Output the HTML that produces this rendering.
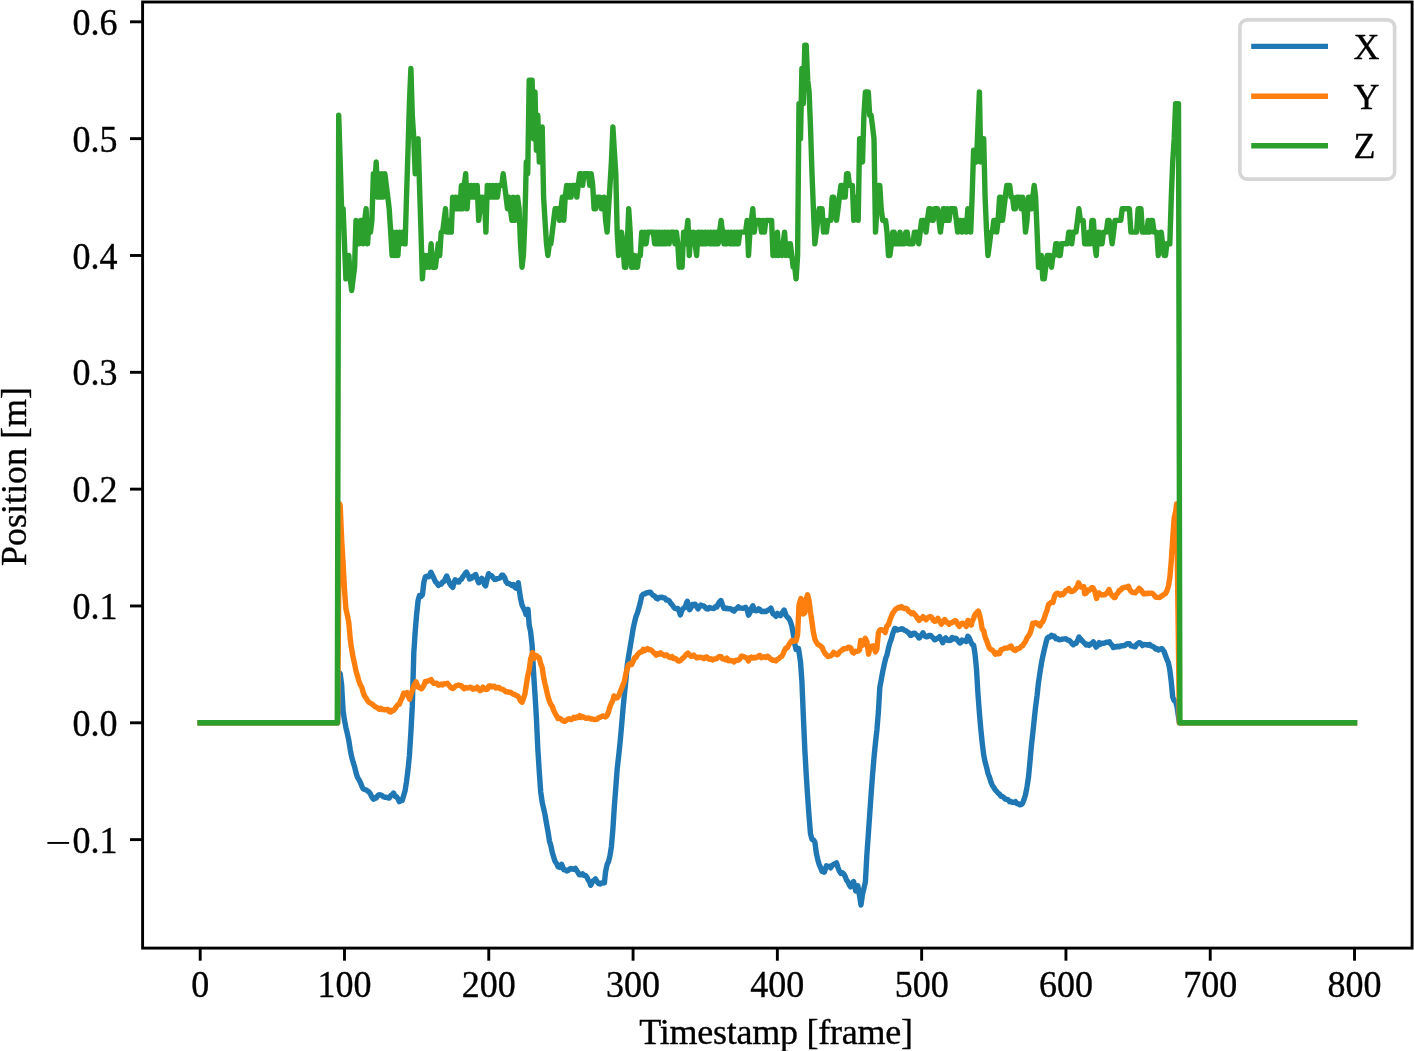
<!DOCTYPE html>
<html><head><meta charset="utf-8"><style>
html,body{margin:0;padding:0;background:#fff;}
svg{display:block;}
text{font-family:"Liberation Serif",serif;font-size:36px;fill:#000;stroke:#000;stroke-width:0.35px;}
</style></head><body>
<svg style="will-change:transform" width="1414" height="1051" viewBox="0 0 1414 1051">
<rect x="0" y="0" width="1414" height="1051" fill="#fff"/>
<g fill="none" stroke-width="5.4" stroke-linejoin="round" stroke-linecap="square">
<path stroke="#1f77b4" d="M200.2,722.8 L337.6,722.8 L339.5,673.0 L340.2,673.9 L341.6,684.6 L343.1,710.9 L344.5,720.3 L345.9,727.6 L347.4,733.9 L348.8,740.3 L350.3,749.9 L351.7,757.0 L353.1,762.1 L354.6,766.8 L356.0,772.6 L357.5,777.4 L358.9,779.6 L360.4,782.5 L361.8,786.1 L363.2,788.9 L364.7,789.6 L366.1,789.8 L367.6,791.0 L369.0,791.9 L370.5,794.1 L371.9,797.1 L373.6,799.2 L374.8,797.7 L376.2,798.0 L377.7,795.8 L379.1,794.8 L380.6,794.9 L382.0,795.5 L383.4,796.7 L384.9,797.3 L386.3,797.2 L387.8,797.9 L389.2,798.1 L390.7,795.6 L392.1,794.8 L393.6,793.0 L395.0,796.3 L396.4,796.7 L397.9,798.6 L399.3,801.6 L400.8,800.7 L402.2,800.6 L403.6,795.7 L405.1,790.7 L406.5,781.7 L408.0,769.7 L409.4,755.7 L410.9,732.1 L412.3,706.2 L413.8,652.9 L415.2,631.7 L416.6,614.6 L418.1,600.4 L419.5,595.5 L421.0,596.3 L422.4,594.9 L423.9,582.1 L425.3,576.9 L426.7,576.2 L428.6,576.8 L429.6,575.1 L430.9,572.2 L432.5,575.5 L433.9,578.3 L435.4,581.8 L436.8,583.1 L438.3,585.4 L439.7,584.5 L441.2,584.2 L442.6,582.0 L444.1,581.4 L445.5,578.5 L446.7,576.0 L448.4,580.4 L449.8,583.7 L451.3,585.9 L452.8,587.4 L454.1,582.2 L455.1,579.8 L457.0,581.8 L458.9,582.0 L459.9,579.9 L461.4,579.3 L462.8,576.9 L464.2,575.0 L465.7,572.9 L466.5,572.2 L468.6,576.2 L469.6,579.0 L471.5,578.3 L472.9,576.4 L474.4,575.5 L475.7,574.5 L477.2,579.2 L478.7,582.8 L480.1,580.5 L481.8,578.3 L483.0,580.0 L484.4,584.5 L485.6,585.9 L487.3,578.7 L488.6,573.7 L490.2,575.7 L491.7,575.8 L493.1,577.7 L494.6,579.3 L496.0,579.2 L497.4,578.6 L498.9,578.3 L500.3,577.7 L501.8,575.3 L503.0,575.2 L504.6,577.5 L506.1,581.8 L507.5,583.4 L509.0,583.5 L510.4,584.5 L511.9,585.5 L513.3,584.5 L514.8,587.2 L516.0,588.2 L518.3,582.8 L519.1,588.8 L520.5,598.1 L522.0,604.8 L523.4,607.9 L524.9,610.9 L526.0,614.6 L528.0,609.3 L529.2,625.2 L530.6,631.6 L532.1,645.2 L533.5,671.5 L535.0,694.5 L536.4,717.6 L537.8,748.3 L539.3,772.2 L540.7,791.8 L542.2,802.3 L543.6,808.3 L545.0,814.8 L546.5,823.5 L547.9,831.0 L549.4,840.7 L550.8,845.4 L552.3,852.5 L553.7,857.1 L555.1,861.5 L556.6,863.5 L558.0,866.7 L559.5,867.4 L561.6,864.3 L562.4,866.1 L563.8,869.8 L565.2,869.8 L566.7,871.0 L568.1,870.4 L569.6,869.1 L571.0,868.5 L572.5,869.2 L573.9,869.4 L575.4,868.3 L576.8,870.6 L578.2,872.8 L579.4,874.8 L581.1,874.8 L582.6,873.8 L584.0,875.4 L585.5,875.5 L586.9,877.2 L588.3,880.1 L589.8,882.4 L590.7,885.3 L592.7,881.2 L594.1,880.4 L595.5,878.9 L597.0,881.5 L598.8,883.7 L599.9,884.0 L601.3,883.0 L602.8,883.1 L604.4,882.9 L605.6,871.6 L607.1,864.5 L608.5,861.6 L610.0,855.7 L611.4,846.6 L612.9,829.1 L614.3,807.2 L615.8,787.4 L617.2,768.7 L618.6,756.5 L620.1,742.3 L621.5,726.7 L623.0,709.1 L624.4,694.4 L625.9,680.3 L627.3,664.6 L628.7,655.6 L630.2,646.5 L631.6,638.4 L633.1,629.0 L634.5,622.5 L636.0,616.5 L637.4,613.0 L638.8,608.2 L640.3,602.8 L641.7,596.0 L643.2,594.2 L644.6,594.1 L646.1,593.1 L647.5,592.6 L648.9,592.3 L650.4,592.2 L651.8,594.1 L653.3,595.5 L654.7,596.0 L656.2,598.2 L657.6,598.9 L659.0,597.4 L660.5,597.6 L661.9,597.1 L663.4,597.9 L664.8,598.0 L666.3,600.1 L667.7,600.1 L669.1,600.7 L670.6,603.1 L672.0,604.6 L673.5,606.9 L674.9,608.3 L676.4,608.7 L677.8,608.4 L679.2,611.4 L680.4,615.0 L682.1,609.8 L683.6,608.2 L685.0,607.5 L686.5,603.0 L687.3,601.3 L689.6,609.7 L690.8,607.9 L692.6,604.4 L693.7,604.4 L695.1,604.2 L696.6,606.6 L698.0,608.9 L699.4,606.5 L700.9,605.0 L702.3,605.8 L703.8,605.9 L705.2,607.3 L706.7,608.9 L708.1,609.0 L709.5,607.4 L711.0,608.0 L712.4,608.4 L713.9,608.5 L715.3,606.8 L716.8,607.0 L718.2,604.0 L719.6,601.8 L720.9,600.5 L722.5,605.0 L724.0,608.4 L725.4,608.5 L726.9,608.2 L728.3,608.9 L729.7,608.8 L731.2,608.9 L732.6,610.3 L734.1,611.1 L735.5,609.0 L737.0,608.5 L738.4,606.8 L739.8,608.0 L741.3,608.1 L742.7,608.2 L744.2,608.0 L745.6,607.3 L747.1,609.6 L748.5,615.2 L749.9,612.8 L751.4,608.4 L752.8,605.7 L754.7,610.4 L755.7,610.7 L757.2,610.6 L758.6,608.8 L760.0,609.6 L761.5,611.6 L762.9,611.5 L764.4,611.3 L765.8,611.5 L767.3,610.7 L768.7,609.8 L770.1,609.0 L770.9,608.1 L773.0,613.9 L774.5,614.6 L775.9,616.3 L777.4,613.4 L778.8,614.3 L780.4,615.7 L781.7,613.5 L783.1,611.4 L784.2,610.0 L786.0,615.4 L787.5,617.3 L788.9,618.6 L790.4,621.4 L791.8,626.1 L793.2,633.6 L794.7,643.7 L796.1,649.5 L797.6,648.7 L798.5,648.5 L800.5,661.8 L801.9,681.3 L803.3,715.0 L804.8,749.1 L806.2,773.8 L807.7,797.3 L809.1,816.7 L810.5,833.9 L812.0,839.4 L813.4,839.8 L814.9,842.1 L816.3,852.9 L817.8,859.7 L819.2,864.6 L820.6,867.7 L822.1,871.4 L823.5,871.0 L824.3,872.1 L826.4,865.8 L827.9,866.5 L829.3,866.3 L830.6,867.9 L832.2,865.4 L833.6,864.3 L835.1,863.7 L836.5,862.9 L838.0,867.6 L839.4,871.3 L840.9,873.4 L842.3,872.7 L843.7,873.8 L845.2,876.6 L846.6,880.2 L848.1,882.2 L849.5,885.3 L850.5,886.8 L852.4,882.9 L853.6,881.5 L855.7,891.0 L856.7,887.8 L857.8,885.7 L859.6,896.1 L861.0,905.0 L862.5,894.1 L863.9,888.4 L865.4,881.8 L866.8,855.8 L868.3,834.6 L869.7,814.6 L871.1,794.2 L872.6,774.4 L874.0,757.5 L875.5,742.4 L876.9,730.0 L878.4,711.8 L879.8,687.5 L881.2,680.0 L882.7,671.7 L884.1,665.2 L885.6,658.7 L887.0,654.8 L888.5,648.0 L889.9,642.9 L891.4,638.8 L892.8,633.5 L894.7,628.5 L895.7,628.7 L897.1,630.0 L898.6,629.7 L900.0,629.4 L901.5,628.8 L902.9,629.0 L904.3,630.2 L905.8,630.7 L907.2,631.7 L908.7,632.7 L910.5,635.4 L911.5,635.4 L913.0,633.5 L914.8,633.2 L915.9,634.5 L917.3,635.4 L918.8,638.0 L919.5,637.9 L920.2,636.2 L921.6,634.8 L923.0,632.8 L924.5,635.7 L926.0,636.8 L927.4,636.9 L928.9,635.5 L930.7,635.4 L931.8,636.8 L933.2,638.0 L934.6,639.9 L935.4,639.7 L937.5,638.0 L939.0,637.6 L939.7,636.7 L940.4,638.8 L941.9,640.7 L942.7,642.7 L944.7,638.9 L945.7,637.9 L947.6,640.4 L949.1,640.5 L950.5,640.4 L952.0,637.5 L953.4,639.0 L954.8,638.3 L956.3,638.5 L957.7,640.6 L959.8,643.1 L960.6,642.8 L962.0,640.0 L963.5,640.5 L964.9,641.0 L966.2,641.4 L967.9,636.2 L969.3,638.1 L970.7,641.6 L972.1,644.2 L973.6,645.3 L975.0,653.7 L976.5,669.3 L977.9,692.8 L979.4,712.9 L980.8,728.9 L982.2,742.7 L983.7,755.0 L985.1,762.0 L986.6,767.4 L988.0,773.5 L989.5,777.2 L990.9,781.9 L992.4,785.5 L993.8,787.5 L995.2,789.7 L996.7,791.4 L998.1,793.1 L999.6,794.2 L1001.0,796.3 L1002.5,796.5 L1003.9,797.6 L1005.3,799.1 L1006.8,799.4 L1008.2,799.9 L1009.7,801.8 L1011.1,801.5 L1012.5,802.4 L1014.0,802.3 L1015.4,801.6 L1016.9,803.6 L1018.3,803.7 L1019.8,804.9 L1021.2,804.7 L1022.6,803.1 L1024.1,799.2 L1025.5,794.7 L1027.0,786.9 L1028.4,777.9 L1029.9,762.5 L1031.3,746.8 L1032.8,733.3 L1034.2,719.8 L1035.6,706.8 L1037.1,695.3 L1038.5,682.3 L1040.0,672.3 L1041.4,663.5 L1042.8,656.3 L1044.3,649.6 L1045.7,643.8 L1047.2,638.2 L1048.6,636.9 L1050.1,637.0 L1051.5,635.3 L1053.0,636.5 L1054.4,636.2 L1055.8,638.7 L1057.3,638.4 L1058.7,639.6 L1060.2,639.7 L1061.6,639.2 L1063.0,639.1 L1064.5,638.9 L1065.9,638.8 L1067.4,640.0 L1068.8,640.1 L1070.3,641.4 L1071.7,643.2 L1073.3,644.7 L1074.6,643.5 L1076.0,643.3 L1077.5,640.7 L1079.0,637.1 L1080.4,638.9 L1081.8,640.5 L1083.2,641.9 L1084.7,643.3 L1086.1,644.9 L1087.6,644.3 L1089.0,645.4 L1090.5,644.1 L1091.9,643.3 L1093.3,641.8 L1094.8,644.6 L1096.1,647.1 L1097.7,645.3 L1099.1,642.7 L1100.6,644.3 L1102.0,643.1 L1103.5,643.2 L1104.9,643.1 L1106.3,642.2 L1107.8,642.3 L1109.5,641.8 L1110.7,644.0 L1112.1,645.1 L1113.3,647.5 L1115.0,646.6 L1116.4,647.1 L1117.9,646.1 L1119.3,646.7 L1120.8,646.0 L1122.2,645.7 L1123.7,645.7 L1125.1,645.3 L1126.5,644.1 L1128.0,643.6 L1129.4,643.6 L1130.9,645.9 L1132.3,645.9 L1133.8,646.5 L1135.2,646.8 L1136.6,644.5 L1138.1,643.2 L1139.5,642.6 L1141.0,643.5 L1142.4,645.6 L1143.9,644.4 L1145.3,644.7 L1146.7,644.6 L1148.2,645.2 L1149.6,644.4 L1151.1,646.0 L1152.5,646.2 L1154.0,647.1 L1155.4,648.9 L1156.8,648.4 L1158.3,650.0 L1159.7,649.3 L1161.2,648.8 L1162.0,648.7 L1164.1,651.5 L1165.5,655.5 L1166.9,659.4 L1168.4,662.8 L1169.8,669.8 L1171.3,682.3 L1172.7,697.0 L1174.2,700.9 L1175.6,701.2 L1177.0,706.5 L1179.4,722.8 L1354.5,722.8"/>
<path stroke="#ff7f0e" d="M200.2,722.8 L337.6,722.8 L339.5,503.7 L340.2,505.6 L341.6,538.4 L343.1,563.6 L344.5,589.7 L345.9,608.6 L347.4,615.3 L348.8,622.7 L350.3,639.4 L351.7,649.6 L353.1,657.3 L354.6,663.9 L356.0,671.0 L357.5,676.0 L358.9,681.1 L360.4,685.0 L361.8,687.4 L363.2,692.5 L364.7,696.3 L366.1,698.0 L367.6,700.7 L369.0,702.3 L370.5,703.1 L371.9,703.8 L373.4,705.2 L374.8,706.5 L376.2,707.2 L377.7,707.9 L379.1,709.2 L380.6,708.2 L382.0,709.6 L383.4,709.4 L384.9,709.9 L386.3,709.5 L387.8,709.4 L389.2,711.7 L390.9,712.0 L392.1,710.2 L393.6,710.3 L395.0,708.8 L396.4,706.5 L397.9,704.8 L399.3,704.2 L400.8,700.4 L402.2,697.8 L403.6,693.2 L405.1,694.0 L406.9,692.7 L408.0,695.4 L409.6,699.3 L410.9,694.4 L412.3,690.5 L413.8,685.8 L415.2,683.1 L416.0,681.8 L418.1,687.2 L419.5,687.5 L421.0,688.7 L421.8,688.7 L423.9,685.3 L425.3,681.4 L426.7,681.7 L428.2,680.9 L429.6,680.5 L431.1,679.5 L432.5,682.2 L433.9,683.3 L435.4,683.2 L436.8,683.1 L438.3,685.2 L439.7,685.0 L441.2,684.1 L442.6,684.9 L444.1,683.6 L445.5,683.7 L447.5,683.3 L448.4,684.5 L449.8,686.4 L451.3,688.0 L452.7,688.5 L454.1,687.5 L455.6,686.1 L457.0,685.5 L458.5,685.0 L459.9,685.6 L461.4,685.6 L462.8,687.5 L464.2,688.8 L465.7,687.5 L467.1,688.0 L468.6,687.9 L470.0,687.2 L471.5,687.6 L472.9,689.3 L474.4,688.4 L475.8,688.8 L477.2,687.1 L478.7,689.2 L480.1,690.8 L481.6,689.9 L483.0,687.1 L484.4,688.8 L485.9,689.5 L487.3,689.4 L488.8,686.2 L490.2,685.8 L491.7,686.9 L493.1,686.2 L494.6,686.5 L496.0,688.1 L497.4,687.4 L498.9,687.5 L500.3,688.9 L501.8,689.1 L503.2,689.5 L504.6,690.7 L506.1,691.8 L507.5,691.6 L509.0,692.3 L510.4,692.2 L511.9,693.3 L513.3,694.2 L514.8,694.5 L516.2,695.6 L517.6,695.9 L519.1,698.0 L520.5,700.9 L522.1,702.3 L523.4,698.6 L524.9,694.2 L526.3,685.1 L527.7,676.0 L529.2,669.9 L530.6,659.1 L532.6,652.6 L534.0,658.6 L535.0,657.1 L536.4,655.6 L537.8,656.9 L539.3,658.0 L540.7,663.8 L542.2,667.6 L543.6,677.1 L545.0,683.8 L546.5,690.2 L547.9,696.3 L549.4,701.1 L550.8,704.6 L552.3,706.3 L553.7,710.6 L555.1,713.3 L556.6,715.8 L558.0,718.6 L559.5,718.1 L560.9,719.0 L562.4,720.4 L563.8,721.2 L565.2,721.2 L566.7,720.0 L568.1,718.9 L569.6,718.8 L571.0,719.7 L572.5,718.9 L573.9,717.2 L575.4,718.2 L576.8,716.9 L578.2,717.5 L579.7,715.6 L581.1,717.5 L582.6,716.5 L584.0,717.4 L585.5,718.2 L586.9,718.3 L588.3,717.9 L589.8,718.3 L591.2,719.0 L592.7,718.9 L594.1,719.6 L595.5,719.5 L597.0,719.2 L598.4,717.9 L599.9,717.4 L601.3,716.6 L602.8,715.9 L604.2,716.3 L605.6,716.9 L607.1,715.5 L608.5,711.7 L610.0,706.8 L611.4,703.3 L612.9,700.1 L613.9,695.9 L615.8,697.9 L617.2,698.0 L618.6,696.0 L620.1,692.1 L621.5,688.7 L623.0,684.8 L624.4,681.2 L625.9,673.8 L627.3,668.5 L628.7,664.5 L630.2,663.8 L631.6,664.4 L633.1,661.5 L634.5,657.9 L636.0,657.4 L637.4,654.8 L638.8,653.2 L640.3,651.9 L641.7,652.0 L643.2,649.4 L644.6,650.7 L646.1,649.8 L647.5,648.5 L648.9,649.7 L650.4,649.7 L651.8,650.5 L653.3,652.2 L654.7,653.4 L656.2,655.1 L657.6,653.6 L659.0,654.3 L660.5,652.9 L661.9,654.1 L663.4,654.9 L664.8,655.7 L666.3,654.8 L667.7,655.8 L669.1,657.2 L670.6,657.5 L672.0,656.6 L673.5,658.6 L674.9,658.3 L676.4,659.1 L677.8,660.8 L679.2,661.1 L680.7,660.3 L682.1,658.7 L683.6,657.6 L685.0,656.0 L686.5,654.1 L687.9,653.1 L689.3,654.6 L690.8,656.3 L692.2,656.2 L693.7,655.0 L695.1,656.5 L696.6,657.9 L698.0,657.2 L699.4,657.5 L700.9,657.2 L702.3,657.7 L703.8,658.6 L705.2,657.4 L706.7,656.9 L708.1,658.5 L709.5,659.3 L711.0,658.8 L712.4,659.9 L713.9,658.9 L715.3,659.0 L716.8,658.6 L718.2,657.2 L719.6,656.5 L721.1,656.6 L722.5,658.9 L724.0,659.0 L725.4,659.8 L726.9,658.2 L728.3,660.7 L729.7,660.1 L731.2,660.9 L732.6,660.6 L734.1,662.0 L735.5,660.5 L737.0,660.3 L738.4,660.0 L739.8,659.0 L741.3,656.2 L742.7,656.2 L744.2,656.8 L745.6,657.5 L747.1,658.1 L748.5,661.0 L749.9,657.8 L751.4,657.1 L752.8,658.1 L754.3,657.3 L755.7,657.9 L757.2,657.2 L758.6,655.8 L760.0,655.4 L761.5,657.7 L762.9,657.2 L764.4,656.8 L765.8,657.6 L767.3,656.2 L768.7,657.0 L770.1,658.7 L771.6,659.5 L773.0,660.4 L774.5,660.1 L775.9,660.9 L777.4,659.3 L778.8,658.6 L780.2,657.2 L781.7,656.4 L783.1,654.0 L784.6,650.1 L786.0,647.9 L787.5,647.7 L788.9,644.7 L790.4,642.4 L791.8,640.5 L793.2,641.2 L794.7,641.0 L796.1,640.9 L797.6,634.7 L799.0,604.9 L800.9,598.6 L801.9,605.6 L803.3,614.0 L804.8,612.8 L806.2,598.6 L807.6,594.8 L809.1,600.9 L810.5,612.1 L812.0,622.0 L813.4,632.3 L814.9,639.3 L816.3,642.1 L817.8,644.4 L819.2,645.2 L820.6,646.1 L822.1,647.4 L823.5,650.8 L825.0,653.5 L826.4,654.9 L827.9,656.5 L829.3,656.0 L830.8,655.8 L832.2,654.7 L833.6,652.3 L835.1,653.6 L837.2,654.8 L838.0,654.3 L839.4,652.1 L840.9,651.0 L842.3,649.9 L843.7,648.7 L845.2,648.7 L846.6,648.6 L848.1,647.1 L849.5,647.2 L851.0,648.3 L852.4,652.2 L853.8,653.1 L855.3,651.3 L856.7,651.4 L858.2,651.1 L859.6,649.7 L860.6,640.5 L862.9,645.1 L863.9,641.2 L865.2,638.2 L866.8,641.4 L868.6,654.2 L869.7,649.2 L871.1,646.5 L873.2,645.7 L874.0,647.4 L875.5,651.9 L876.9,648.8 L878.4,632.8 L879.8,629.9 L881.2,629.7 L882.7,630.1 L884.1,631.0 L885.2,632.5 L887.0,625.8 L888.5,624.6 L889.9,620.1 L891.4,616.3 L892.8,613.0 L894.2,611.3 L895.7,609.1 L897.1,608.5 L898.6,607.2 L900.0,607.8 L901.5,606.6 L902.9,608.0 L904.3,608.6 L905.8,608.3 L907.2,608.9 L908.7,611.5 L910.1,612.2 L911.5,613.7 L913.0,612.7 L914.4,614.2 L915.9,615.5 L917.3,618.1 L919.1,620.4 L920.2,618.4 L921.6,618.5 L923.1,616.7 L924.5,618.0 L926.0,619.7 L927.4,618.0 L928.9,617.1 L930.2,616.5 L931.8,617.4 L933.2,620.2 L934.5,621.3 L936.1,620.9 L937.9,618.3 L939.0,620.7 L940.4,621.9 L941.4,624.2 L943.3,621.0 L944.8,619.5 L946.2,621.8 L947.6,622.8 L949.1,624.2 L950.5,622.9 L952.0,622.8 L953.4,621.6 L954.8,620.6 L955.9,620.8 L957.7,624.4 L959.3,626.4 L960.6,624.6 L962.0,623.1 L963.5,623.5 L964.9,624.5 L966.2,626.4 L967.9,620.4 L969.3,622.1 L971.3,625.1 L972.1,621.5 L973.6,618.3 L975.0,614.7 L976.5,612.8 L978.2,611.0 L979.4,614.4 L980.8,620.4 L982.2,629.1 L983.7,630.6 L985.1,637.0 L986.6,640.6 L988.0,644.6 L989.5,648.2 L990.9,649.5 L992.4,650.2 L993.8,651.8 L995.2,654.1 L996.7,652.7 L998.1,653.8 L999.6,653.5 L1001.0,649.7 L1002.5,649.2 L1003.9,648.7 L1005.3,647.9 L1006.8,648.1 L1008.2,647.8 L1009.7,646.6 L1011.1,646.1 L1012.5,648.7 L1014.0,649.9 L1015.4,650.5 L1016.9,648.8 L1018.3,648.8 L1019.8,648.1 L1021.2,646.4 L1022.6,645.8 L1024.1,643.4 L1025.5,641.6 L1027.0,637.9 L1028.4,636.0 L1029.9,633.6 L1031.3,629.4 L1032.8,623.2 L1034.2,623.7 L1035.6,622.6 L1037.1,623.4 L1038.5,624.7 L1040.0,625.8 L1041.4,622.7 L1042.8,621.7 L1044.3,618.0 L1045.7,613.7 L1047.2,609.7 L1048.6,604.2 L1050.1,603.3 L1051.5,602.1 L1053.0,602.5 L1054.4,596.6 L1055.8,594.0 L1057.3,593.1 L1058.7,593.7 L1060.2,595.2 L1061.6,593.7 L1063.0,594.6 L1064.5,592.8 L1065.9,590.4 L1067.4,590.0 L1068.8,588.5 L1070.3,591.2 L1071.7,591.6 L1073.2,591.0 L1074.6,590.0 L1076.0,588.4 L1077.5,585.7 L1078.5,582.8 L1080.9,587.1 L1081.8,587.1 L1083.8,586.7 L1084.7,593.8 L1086.1,593.3 L1087.6,590.1 L1089.0,590.5 L1090.5,589.2 L1091.9,587.7 L1092.8,587.6 L1094.8,591.5 L1096.6,598.5 L1097.7,595.1 L1099.0,592.8 L1100.6,594.5 L1102.0,595.0 L1103.5,594.7 L1104.9,594.7 L1106.3,593.5 L1107.8,591.8 L1109.0,589.5 L1110.7,593.8 L1112.1,595.3 L1114.2,597.6 L1115.0,597.5 L1116.4,594.5 L1117.9,593.1 L1119.3,590.1 L1120.8,590.1 L1122.2,587.9 L1123.7,587.7 L1125.1,587.3 L1126.5,587.2 L1128.5,586.2 L1129.4,588.8 L1130.9,591.2 L1132.3,592.3 L1133.8,592.5 L1135.2,592.9 L1136.6,591.3 L1138.1,590.2 L1139.1,588.2 L1141.0,589.9 L1142.4,592.0 L1143.7,593.9 L1145.3,593.7 L1146.7,593.3 L1148.2,593.5 L1149.6,593.2 L1151.1,593.2 L1152.5,593.5 L1154.0,594.9 L1155.4,596.9 L1156.8,597.4 L1158.3,597.4 L1159.7,597.5 L1161.2,596.2 L1162.6,595.5 L1164.1,594.2 L1165.5,593.5 L1166.9,590.9 L1168.4,586.2 L1169.8,578.0 L1171.3,560.4 L1172.7,538.6 L1174.2,517.9 L1175.6,511.7 L1176.6,504.0 L1179.4,722.8 L1354.5,722.8"/>
<path stroke="#2ca02c" d="M200.2,722.8 L337.3,722.8 L338.7,115.3 L340.2,162.0 L341.6,208.8 L343.1,208.8 L344.5,243.8 L345.9,278.9 L347.4,267.2 L348.8,255.5 L350.3,278.9 L351.7,290.5 L353.1,278.9 L354.6,267.2 L356.0,220.4 L357.5,243.8 L358.9,243.8 L360.4,220.4 L361.8,220.4 L363.2,243.8 L364.7,220.4 L366.1,208.8 L367.6,243.8 L369.0,220.4 L370.5,232.1 L371.9,220.4 L373.4,173.7 L374.8,185.4 L376.2,162.0 L377.7,197.1 L379.1,173.7 L380.6,197.1 L382.0,173.7 L383.4,197.1 L384.9,173.7 L386.3,185.4 L387.8,197.1 L389.2,208.8 L390.7,232.1 L392.1,255.5 L393.6,232.1 L395.0,255.5 L396.4,232.1 L397.9,255.5 L399.3,232.1 L400.8,243.8 L402.2,232.1 L403.6,243.8 L405.1,243.8 L406.5,197.1 L408.0,150.3 L409.4,103.6 L410.9,68.5 L412.3,115.3 L413.8,138.7 L415.2,173.7 L416.6,162.0 L418.1,138.7 L419.5,185.4 L421.0,232.1 L422.4,278.9 L423.9,255.5 L425.3,255.5 L426.7,267.2 L428.2,255.5 L429.6,267.2 L431.1,243.8 L432.5,267.2 L433.9,267.2 L435.4,267.2 L436.8,255.5 L438.3,243.8 L439.7,255.5 L441.2,232.1 L442.6,232.1 L444.1,220.4 L445.5,208.8 L446.9,232.1 L448.4,220.4 L449.8,232.1 L451.3,232.1 L452.7,197.1 L454.1,208.8 L455.6,197.1 L457.0,208.8 L458.5,197.1 L459.9,208.8 L461.4,185.4 L462.8,208.8 L464.2,185.4 L465.7,173.7 L467.1,208.8 L468.6,185.4 L470.0,197.1 L471.5,185.4 L472.9,197.1 L474.4,185.4 L475.8,197.1 L477.2,185.4 L478.7,220.4 L480.1,208.8 L481.6,197.1 L483.0,208.8 L484.4,197.1 L485.9,232.1 L487.3,185.4 L488.8,197.1 L490.2,185.4 L491.7,197.1 L493.1,185.4 L494.6,197.1 L496.0,185.4 L497.4,197.1 L498.9,185.4 L500.3,185.4 L501.8,185.4 L503.2,173.7 L504.6,185.4 L506.1,197.1 L507.5,208.8 L509.0,197.1 L510.4,208.8 L511.9,220.4 L513.3,197.1 L514.8,220.4 L516.2,208.8 L517.6,197.1 L519.1,208.8 L520.5,243.8 L522.0,267.2 L523.4,255.5 L524.9,220.4 L526.3,162.0 L527.7,173.7 L529.2,80.2 L530.6,80.2 L532.1,80.2 L533.5,138.7 L535.0,91.9 L536.4,150.3 L537.8,115.3 L539.3,162.0 L540.7,150.3 L542.2,127.0 L543.6,197.1 L545.0,220.4 L546.5,243.8 L547.9,255.5 L549.4,243.8 L550.8,243.8 L552.3,232.1 L553.7,220.4 L555.1,208.8 L556.6,208.8 L558.0,208.8 L559.5,220.4 L560.9,208.8 L562.4,197.1 L563.8,220.4 L565.2,197.1 L566.7,185.4 L568.1,197.1 L569.6,185.4 L571.0,197.1 L572.5,185.4 L573.9,185.4 L575.4,185.4 L576.8,197.1 L578.2,185.4 L579.7,173.7 L581.1,173.7 L582.6,185.4 L584.0,173.7 L585.5,173.7 L586.9,173.7 L588.3,173.7 L589.8,185.4 L591.2,173.7 L592.7,185.4 L594.1,208.8 L595.5,208.8 L597.0,197.1 L598.4,197.1 L599.9,197.1 L601.3,208.8 L602.8,208.8 L604.2,197.1 L605.6,220.4 L607.1,232.1 L608.5,208.8 L610.0,185.4 L611.4,162.0 L612.9,127.0 L614.3,150.3 L615.8,173.7 L617.2,232.1 L618.6,255.5 L620.1,243.8 L621.5,232.1 L623.0,243.8 L624.4,267.2 L625.9,267.2 L627.3,243.8 L628.7,208.8 L630.2,232.1 L631.6,267.2 L633.1,267.2 L634.5,255.5 L636.0,267.2 L637.4,267.2 L638.8,255.5 L640.3,255.5 L641.7,232.1 L643.2,243.8 L644.6,232.1 L646.1,243.8 L647.5,232.1 L648.9,232.1 L650.4,232.1 L651.8,232.1 L653.3,232.1 L654.7,243.8 L656.2,232.1 L657.6,243.8 L659.0,232.1 L660.5,243.8 L661.9,232.1 L663.4,243.8 L664.8,232.1 L666.3,243.8 L667.7,232.1 L669.1,243.8 L670.6,232.1 L672.0,232.1 L673.5,232.1 L674.9,243.8 L676.4,232.1 L677.8,243.8 L679.2,267.2 L680.7,255.5 L682.1,267.2 L683.6,232.1 L685.0,243.8 L686.5,232.1 L687.9,220.4 L689.3,255.5 L690.8,232.1 L692.2,243.8 L693.7,232.1 L695.1,243.8 L696.6,255.5 L698.0,232.1 L699.4,232.1 L700.9,243.8 L702.3,232.1 L703.8,243.8 L705.2,232.1 L706.7,243.8 L708.1,232.1 L709.5,243.8 L711.0,232.1 L712.4,243.8 L713.9,232.1 L715.3,243.8 L716.8,232.1 L718.2,243.8 L719.6,232.1 L721.1,220.4 L722.5,232.1 L724.0,243.8 L725.4,232.1 L726.9,243.8 L728.3,232.1 L729.7,243.8 L731.2,232.1 L732.6,243.8 L734.1,232.1 L735.5,243.8 L737.0,232.1 L738.4,243.8 L739.8,232.1 L741.3,232.1 L742.7,232.1 L744.2,232.1 L745.6,232.1 L747.1,220.4 L748.5,255.5 L749.9,232.1 L751.4,220.4 L752.8,208.8 L754.3,232.1 L755.7,220.4 L757.2,220.4 L758.6,220.4 L760.0,220.4 L761.5,232.1 L762.9,220.4 L764.4,232.1 L765.8,220.4 L767.3,220.4 L768.7,220.4 L770.1,220.4 L771.6,220.4 L773.0,255.5 L774.5,243.8 L775.9,255.5 L777.4,232.1 L778.8,255.5 L780.2,243.8 L781.7,255.5 L783.1,243.8 L784.6,232.1 L786.0,255.5 L787.5,243.8 L788.9,255.5 L790.4,243.8 L791.8,255.5 L793.2,267.2 L794.7,267.2 L796.1,278.9 L797.6,255.5 L799.0,103.6 L800.5,138.7 L801.9,68.5 L803.3,103.6 L804.8,45.2 L806.2,45.2 L807.7,80.2 L809.1,91.9 L810.5,127.0 L812.0,173.7 L813.4,208.8 L814.9,243.8 L816.3,232.1 L817.8,220.4 L819.2,208.8 L820.6,208.8 L822.1,208.8 L823.5,232.1 L825.0,220.4 L826.4,232.1 L827.9,220.4 L829.3,220.4 L830.8,220.4 L832.2,197.1 L833.6,197.1 L835.1,208.8 L836.5,220.4 L838.0,208.8 L839.4,197.1 L840.9,185.4 L842.3,185.4 L843.7,197.1 L845.2,197.1 L846.6,173.7 L848.1,173.7 L849.5,185.4 L851.0,185.4 L852.4,185.4 L853.8,220.4 L855.3,208.8 L856.7,197.1 L858.2,220.4 L859.6,138.7 L861.0,150.3 L862.5,162.0 L863.9,115.3 L865.4,91.9 L866.8,91.9 L868.3,91.9 L869.7,115.3 L871.1,115.3 L872.6,127.0 L874.0,138.7 L875.5,232.1 L876.9,208.8 L878.4,185.4 L879.8,185.4 L881.2,208.8 L882.7,220.4 L884.1,220.4 L885.6,220.4 L887.0,232.1 L888.5,255.5 L889.9,255.5 L891.4,243.8 L892.8,232.1 L894.2,232.1 L895.7,243.8 L897.1,243.8 L898.6,243.8 L900.0,232.1 L901.5,243.8 L902.9,243.8 L904.3,243.8 L905.8,232.1 L907.2,232.1 L908.7,243.8 L910.1,243.8 L911.5,243.8 L913.0,243.8 L914.4,232.1 L915.9,232.1 L917.3,232.1 L918.8,243.8 L920.2,232.1 L921.6,220.4 L923.1,220.4 L924.5,220.4 L926.0,232.1 L927.4,220.4 L928.9,208.8 L930.3,208.8 L931.8,220.4 L933.2,220.4 L934.6,208.8 L936.1,208.8 L937.5,208.8 L939.0,220.4 L940.4,232.1 L941.9,220.4 L943.3,208.8 L944.7,208.8 L946.2,220.4 L947.6,208.8 L949.1,220.4 L950.5,208.8 L952.0,208.8 L953.4,208.8 L954.8,208.8 L956.3,220.4 L957.7,232.1 L959.2,220.4 L960.6,220.4 L962.0,232.1 L963.5,220.4 L964.9,220.4 L966.4,232.1 L967.8,208.8 L969.3,220.4 L970.7,232.1 L972.1,197.1 L973.6,150.3 L975.0,150.3 L976.5,162.0 L977.9,127.0 L979.4,91.9 L980.8,162.0 L982.2,150.3 L983.7,138.7 L985.1,197.1 L986.6,232.1 L988.0,255.5 L989.5,243.8 L990.9,232.1 L992.4,232.1 L993.8,220.4 L995.2,220.4 L996.7,232.1 L998.1,220.4 L999.6,197.1 L1001.0,197.1 L1002.5,220.4 L1003.9,208.8 L1005.3,197.1 L1006.8,185.4 L1008.2,185.4 L1009.7,185.4 L1011.1,197.1 L1012.5,197.1 L1014.0,208.8 L1015.4,208.8 L1016.9,197.1 L1018.3,197.1 L1019.8,197.1 L1021.2,208.8 L1022.6,197.1 L1024.1,208.8 L1025.5,232.1 L1027.0,220.4 L1028.4,197.1 L1029.9,197.1 L1031.3,208.8 L1032.8,197.1 L1034.2,185.4 L1035.6,197.1 L1037.1,232.1 L1038.5,267.2 L1040.0,267.2 L1041.4,255.5 L1042.8,278.9 L1044.3,278.9 L1045.7,267.2 L1047.2,255.5 L1048.6,255.5 L1050.1,255.5 L1051.5,267.2 L1053.0,255.5 L1054.4,255.5 L1055.8,243.8 L1057.3,243.8 L1058.7,255.5 L1060.2,255.5 L1061.6,243.8 L1063.0,243.8 L1064.5,243.8 L1065.9,243.8 L1067.4,243.8 L1068.8,232.1 L1070.3,232.1 L1071.7,243.8 L1073.2,232.1 L1074.6,232.1 L1076.0,232.1 L1077.5,220.4 L1078.9,208.8 L1080.4,220.4 L1081.8,220.4 L1083.2,220.4 L1084.7,243.8 L1086.1,243.8 L1087.6,243.8 L1089.0,232.1 L1090.5,243.8 L1091.9,220.4 L1093.4,220.4 L1094.8,243.8 L1096.2,255.5 L1097.7,232.1 L1099.1,232.1 L1100.6,243.8 L1102.0,243.8 L1103.5,232.1 L1104.9,232.1 L1106.3,232.1 L1107.8,220.4 L1109.2,220.4 L1110.7,232.1 L1112.1,243.8 L1113.6,232.1 L1115.0,220.4 L1116.4,220.4 L1117.9,220.4 L1119.3,220.4 L1120.8,220.4 L1122.2,208.8 L1123.7,208.8 L1125.1,208.8 L1126.5,208.8 L1128.0,208.8 L1129.4,208.8 L1130.9,232.1 L1132.3,232.1 L1133.8,232.1 L1135.2,232.1 L1136.6,232.1 L1138.1,208.8 L1139.5,208.8 L1141.0,208.8 L1142.4,232.1 L1143.9,232.1 L1145.3,232.1 L1146.7,232.1 L1148.2,220.4 L1149.6,232.1 L1151.1,220.4 L1152.5,220.4 L1154.0,232.1 L1155.4,232.1 L1156.8,232.1 L1158.3,255.5 L1159.7,243.8 L1161.2,232.1 L1162.6,243.8 L1164.1,255.5 L1165.5,255.5 L1166.9,243.8 L1168.4,243.8 L1169.8,243.8 L1171.3,197.1 L1172.7,162.0 L1174.2,138.7 L1175.6,103.6 L1177.0,103.6 L1178.5,103.6 L1179.9,722.8 L1354.5,722.8"/>
</g>
<g stroke="#000" stroke-width="2.9" stroke-linecap="butt"><line x1="200.20" y1="948.1" x2="200.20" y2="960.7"/><line x1="344.49" y1="948.1" x2="344.49" y2="960.7"/><line x1="488.78" y1="948.1" x2="488.78" y2="960.7"/><line x1="633.07" y1="948.1" x2="633.07" y2="960.7"/><line x1="777.36" y1="948.1" x2="777.36" y2="960.7"/><line x1="921.65" y1="948.1" x2="921.65" y2="960.7"/><line x1="1065.94" y1="948.1" x2="1065.94" y2="960.7"/><line x1="1210.23" y1="948.1" x2="1210.23" y2="960.7"/><line x1="1354.52" y1="948.1" x2="1354.52" y2="960.7"/><line x1="142.6" y1="839.63" x2="130.0" y2="839.63"/><line x1="142.6" y1="722.80" x2="130.0" y2="722.80"/><line x1="142.6" y1="605.97" x2="130.0" y2="605.97"/><line x1="142.6" y1="489.14" x2="130.0" y2="489.14"/><line x1="142.6" y1="372.31" x2="130.0" y2="372.31"/><line x1="142.6" y1="255.48" x2="130.0" y2="255.48"/><line x1="142.6" y1="138.65" x2="130.0" y2="138.65"/><line x1="142.6" y1="21.82" x2="130.0" y2="21.82"/></g>
<rect x="142.6" y="2.0" width="1269.50" height="946.10" fill="none" stroke="#000" stroke-width="2.9" stroke-linejoin="miter"/>
<g><text transform="matrix(1,0,0,1.035,200.20,997.3)" text-anchor="middle">0</text><text transform="matrix(1,0,0,1.035,344.49,997.3)" text-anchor="middle">100</text><text transform="matrix(1,0,0,1.035,488.78,997.3)" text-anchor="middle">200</text><text transform="matrix(1,0,0,1.035,633.07,997.3)" text-anchor="middle">300</text><text transform="matrix(1,0,0,1.035,777.36,997.3)" text-anchor="middle">400</text><text transform="matrix(1,0,0,1.035,921.65,997.3)" text-anchor="middle">500</text><text transform="matrix(1,0,0,1.035,1065.94,997.3)" text-anchor="middle">600</text><text transform="matrix(1,0,0,1.035,1210.23,997.3)" text-anchor="middle">700</text><text transform="matrix(1,0,0,1.035,1354.52,997.3)" text-anchor="middle">800</text><text transform="matrix(1,0,0,1.035,117.6,852.73)" text-anchor="end">0.1</text><rect x="47.4" y="841.98" width="21.7" height="1.9" fill="#000"/><text transform="matrix(1,0,0,1.035,117.6,735.90)" text-anchor="end">0.0</text><text transform="matrix(1,0,0,1.035,117.6,619.07)" text-anchor="end">0.1</text><text transform="matrix(1,0,0,1.035,117.6,502.24)" text-anchor="end">0.2</text><text transform="matrix(1,0,0,1.035,117.6,385.41)" text-anchor="end">0.3</text><text transform="matrix(1,0,0,1.035,117.6,268.58)" text-anchor="end">0.4</text><text transform="matrix(1,0,0,1.035,117.6,151.75)" text-anchor="end">0.5</text><text transform="matrix(1,0,0,1.035,117.6,34.92)" text-anchor="end">0.6</text></g>
<text x="776" y="1043.8" text-anchor="middle" letter-spacing="-0.25">Timestamp [frame]</text>
<text transform="translate(25.6,476.5) rotate(-90)" text-anchor="middle">Position [m]</text>
<rect x="1239.9" y="19.9" width="154.7" height="159.2" rx="7.2" ry="7.2" fill="#fff" fill-opacity="0.8" stroke="#d6d6d6" stroke-width="3.6"/>
<g stroke-width="5.4" stroke-linecap="butt">
<line x1="1251.2" y1="46.4" x2="1328" y2="46.4" stroke="#1f77b4"/>
<line x1="1251.2" y1="96.2" x2="1328" y2="96.2" stroke="#ff7f0e"/>
<line x1="1251.2" y1="145.8" x2="1328" y2="145.8" stroke="#2ca02c"/>
</g>
<text x="1353.5" y="59.3">X</text>
<text x="1353.5" y="108.9">Y</text>
<text x="1353.5" y="157.9">Z</text>
</svg>
</body></html>
